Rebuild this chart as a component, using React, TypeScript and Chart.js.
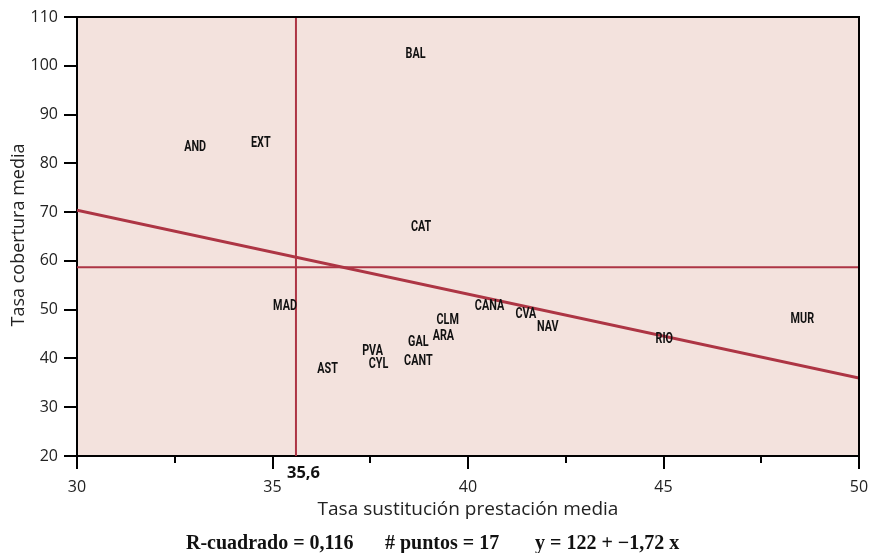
import React, { useEffect, useRef } from "react";
import { Chart, registerables } from "chart.js";
Chart.register(...registerables);

const regionLabels = ["AND","EXT","BAL","CAT","MAD","CANA","CVA","NAV","CLM","ARA","GAL","PVA","CYL","CANT","AST","RIO","MUR"];
const xValues = [33.02,34.70,38.66,38.80,35.32,40.55,41.48,42.04,39.48,39.37,38.73,37.56,37.71,38.73,36.41,45.02,48.55];
const yValues = [83.6,84.3,102.6,67.0,51.0,51.0,49.3,46.6,48.1,44.8,43.6,41.6,39.1,39.7,38.0,44.1,48.2];
const xRange = [30, 50];
const yRange = [20, 110];
const meanX = 35.6;
const meanY = 58.7;
const intercept = 122;
const slope = -1.72;
const minorTicksX = [32.5, 37.5, 42.5, 47.5];
const statsText = ["R-cuadrado = 0,116", "# puntos = 17", "y = 122 + \u22121,72 x"];

const LINE = "#AD3544";
const BG = "#F3E2DD";

export default function App() {
  const ref = useRef<HTMLCanvasElement>(null);
  useEffect(() => {
    document.body.style.margin = "0";
    const canvas = ref.current!;
    const decor = {
      id: "decor",
      beforeDraw(chart: any) {
        const { ctx, chartArea: a } = chart;
        ctx.save();
        ctx.fillStyle = "#fff";
        ctx.fillRect(0, 0, chart.width, chart.height);
        ctx.fillStyle = BG;
        ctx.fillRect(a.left, a.top, a.right - a.left, a.bottom - a.top);
        ctx.restore();
      },
      afterDatasetsDraw(chart: any) {
        const { ctx, scales } = chart;
        const xs = scales.x, ys = scales.y;
        ctx.save();
        ctx.fillStyle = "#111";
        ctx.font = "bold 15px Roboto";
        ctx.textAlign = "center";
        ctx.textBaseline = "middle";
        regionLabels.forEach((l, i) => {
          const px = xs.getPixelForValue(xValues[i]);
          const py = ys.getPixelForValue(yValues[i]);
          ctx.save();
          ctx.translate(px, py + 1);
          ctx.scale(0.72, 1);
          ctx.fillText(l, 0, 0);
          ctx.restore();
        });
        ctx.restore();
      },
      afterDraw(chart: any) {
        const { ctx, chartArea: a, scales } = chart;
        const xs = scales.x;
        ctx.save();
        ctx.strokeStyle = "#000";
        ctx.lineWidth = 2;
        ctx.beginPath();
        ctx.moveTo(a.left, a.top);
        ctx.lineTo(a.right, a.top);
        ctx.lineTo(a.right, a.bottom);
        ctx.stroke();
        minorTicksX.forEach((v) => {
          const px = Math.round(xs.getPixelForValue(v));
          ctx.beginPath();
          ctx.moveTo(px, a.bottom);
          ctx.lineTo(px, a.bottom + 7);
          ctx.stroke();
        });
        // mean label
        ctx.fillStyle = "#111";
        ctx.font = "bold 16.5px 'Open Sans'";
        ctx.textAlign = "left";
        ctx.textBaseline = "middle";
        ctx.fillText("35,6", xs.getPixelForValue(meanX) - 9, a.bottom + 17);
        // axis titles
        ctx.fillStyle = "#222";
        ctx.font = "19px 'Open Sans'";
        ctx.textAlign = "center";
        ctx.fillText("Tasa sustitución prestación media", (a.left + a.right) / 2, 510);
        ctx.save();
        ctx.font = "18px 'Open Sans'";
        ctx.translate(19, 235);
        ctx.rotate(-Math.PI / 2);
        ctx.fillText("Tasa cobertura media", 0, 0);
        ctx.restore();
        // stats
        ctx.fillStyle = "#111";
        ctx.font = "bold 20px 'Liberation Serif'";
        ctx.textAlign = "left";
        ctx.textBaseline = "alphabetic";
        const starts = [186, 385, 535];
        statsText.forEach((t, i) => ctx.fillText(t, starts[i], 549));
        ctx.restore();
      },
    };
    const lineDs = (data: any[], w: number) => ({
      type: "line" as const,
      data,
      borderColor: LINE,
      borderWidth: w,
      pointRadius: 0,
      fill: false,
      showLine: true,
    });
    const chart = new Chart(canvas, {
      type: "scatter",
      data: {
        datasets: [
          lineDs([{ x: meanX, y: yRange[0] }, { x: meanX, y: yRange[1] }], 2),
          lineDs([{ x: xRange[0], y: meanY }, { x: xRange[1], y: meanY }], 2),
          lineDs(xRange.map((x) => ({ x, y: intercept + slope * x })), 3),
          {
            type: "scatter" as const,
            data: xValues.map((x, i) => ({ x, y: yValues[i] })),
            pointRadius: 0,
          },
        ],
      },
      options: {
        responsive: false,
        animation: false,
        devicePixelRatio: 1,
        layout: { padding: { top: 17, right: 12, left: 0, bottom: 0 } },
        plugins: { legend: { display: false }, tooltip: { enabled: false } },
        scales: {
          x: {
            type: "linear",
            min: xRange[0],
            max: xRange[1],
            afterFit(s: any) { s.height = 97; s.paddingRight = 0; s.paddingLeft = 0; },
            ticks: { stepSize: 5, color: "#222", font: { family: "'Open Sans'", size: 16 }, padding: 9 },
            grid: { drawOnChartArea: false, drawTicks: true, tickLength: 13, color: "#000", lineWidth: 2 },
            border: { display: true, color: "#000", width: 2 },
          },
          y: {
            type: "linear",
            min: yRange[0],
            max: yRange[1],
            afterFit(s: any) { s.width = 77; s.paddingTop = 0; s.paddingBottom = 0; },
            ticks: { stepSize: 10, color: "#222", font: { family: "'Open Sans'", size: 16 }, padding: 6 },
            grid: { drawOnChartArea: false, drawTicks: true, tickLength: 13, color: "#000", lineWidth: 2 },
            border: { display: true, color: "#000", width: 2 },
          },
        },
      },
      plugins: [decor],
    });
    return () => chart.destroy();
  }, []);
  return <canvas ref={ref} width={871} height={553} style={{ display: "block" }} />;
}
